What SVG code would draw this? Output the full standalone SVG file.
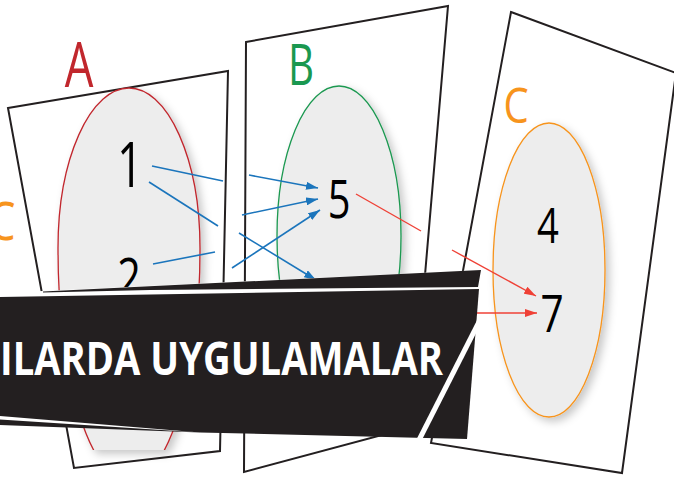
<svg xmlns="http://www.w3.org/2000/svg" width="674" height="480" viewBox="0 0 674 480">
<style>
.panel{fill:#ffffff;stroke:#231f20;stroke-width:2;stroke-linejoin:miter}
.ell{fill:#ededed;stroke-width:1.3}
.lbl{font-family:"Open Sans","Noto Sans",sans-serif;text-anchor:middle}
.blue{stroke:#1b75bc;stroke-width:1.6;fill:none}
.red{stroke:#ef4136;stroke-width:1.4;fill:none}
.ban{fill:#231f20}
.title{font-family:"Open Sans","Noto Sans",sans-serif;font-weight:700;fill:#ffffff}
</style>
<defs>
<filter id="sh" x="-20%" y="-20%" width="140%" height="140%">
<feDropShadow dx="4" dy="4" stdDeviation="4" flood-color="#000" flood-opacity="0.22"/>
</filter>
<clipPath id="clipA"><rect x="0" y="0" width="674" height="450"/></clipPath>
<marker id="ab" markerUnits="userSpaceOnUse" markerWidth="12" markerHeight="8" refX="12" refY="4" orient="auto"><path d="M0,0 L12,4 L0,8 Z" fill="#1b75bc"/></marker>
<marker id="ar" markerUnits="userSpaceOnUse" markerWidth="12" markerHeight="8" refX="12" refY="4" orient="auto"><path d="M0,0 L12,4 L0,8 Z" fill="#ef4136"/></marker>
</defs>
<rect width="674" height="480" fill="#ffffff"/>

<g id="panelA">
<polygon class="panel" points="8,108 228,71 220,451 74,468"/>
<g filter="url(#sh)"><path class="ell" clip-path="url(#clipA)" stroke="#c1272d" d="M58,248 A71,160 0 0 1 200,248 A71,233 0 0 1 58,248 Z"/></g>
<text class="lbl" transform="translate(79,87) scale(0.72,1)" font-size="63" fill="#c1272d">A</text>
<text class="lbl" transform="translate(130,187) scale(0.72,1)" font-size="63" fill="#000">1</text>
<text class="lbl" transform="translate(129,297) scale(0.75,1)" font-size="55" fill="#000">2</text>
</g>

<g id="panelB">
<polygon class="panel" points="246,42 448,6 412,427 244,472"/>
<g filter="url(#sh)"><ellipse class="ell" stroke="#1a9850" cx="339" cy="236" rx="62" ry="150"/></g>
<text class="lbl" transform="translate(301,85) scale(0.72,1)" font-size="56" fill="#1a9850">B</text>
<text class="lbl" transform="translate(339,218) scale(0.75,1)" font-size="53" fill="#000">5</text>
</g>

<g id="panelC">
<polygon class="panel" points="511,12 676,73 622,473 431,443"/>
<g filter="url(#sh)"><ellipse class="ell" stroke="#f7941d" cx="549" cy="270" rx="56" ry="147"/></g>
<text class="lbl" transform="translate(516,123) scale(0.8,1)" font-size="50" fill="#f7941d">C</text>
<text class="lbl" transform="translate(548,243) scale(0.78,1)" font-size="49" fill="#000">4</text>
<text class="lbl" transform="translate(552,332) scale(0.78,1)" font-size="52" fill="#000">7</text>
</g>

<g id="labelC2">
<text class="lbl" transform="translate(2,240) scale(0.8,1)" font-size="53" fill="#f7941d">C</text>
</g>

<g id="connectors">
<line class="blue" x1="152" y1="166" x2="223" y2="181"/>
<line class="blue" x1="249" y1="175" x2="318" y2="188" marker-end="url(#ab)"/>
<line class="blue" x1="149" y1="182" x2="218" y2="226"/>
<line class="blue" x1="239" y1="233" x2="316" y2="280" marker-end="url(#ab)"/>
<line class="blue" x1="153" y1="264" x2="215" y2="252"/>
<line class="blue" x1="242" y1="215" x2="318" y2="199" marker-end="url(#ab)"/>
<line class="blue" x1="232" y1="268" x2="320" y2="210" marker-end="url(#ab)"/>
<line class="red" x1="356" y1="194" x2="421" y2="231"/>
<line class="red" x1="452" y1="250" x2="536" y2="296" marker-end="url(#ar)"/>
<line class="red" x1="470" y1="313" x2="537" y2="313" marker-end="url(#ar)"/>
</g>

<g id="banner">
<polygon fill="#ffffff" points="0,292 43,291 481,270 482,294 0,299"/>
<polygon class="ban" points="43,291.5 481,270 478,287 150,290 43,292.5"/>
<polygon class="ban" points="0,297 479,289 467,439 200,432.5 0,425"/>
<polygon fill="#ffffff" points="0,416 0,419.5 200,432.5"/>
<line x1="481" y1="318" x2="418" y2="442" stroke="#ffffff" stroke-width="5"/>
<text class="title" x="0" y="375" font-size="46" textLength="443" lengthAdjust="spacingAndGlyphs">ILARDA UYGULAMALAR</text>
</g>
</svg>
